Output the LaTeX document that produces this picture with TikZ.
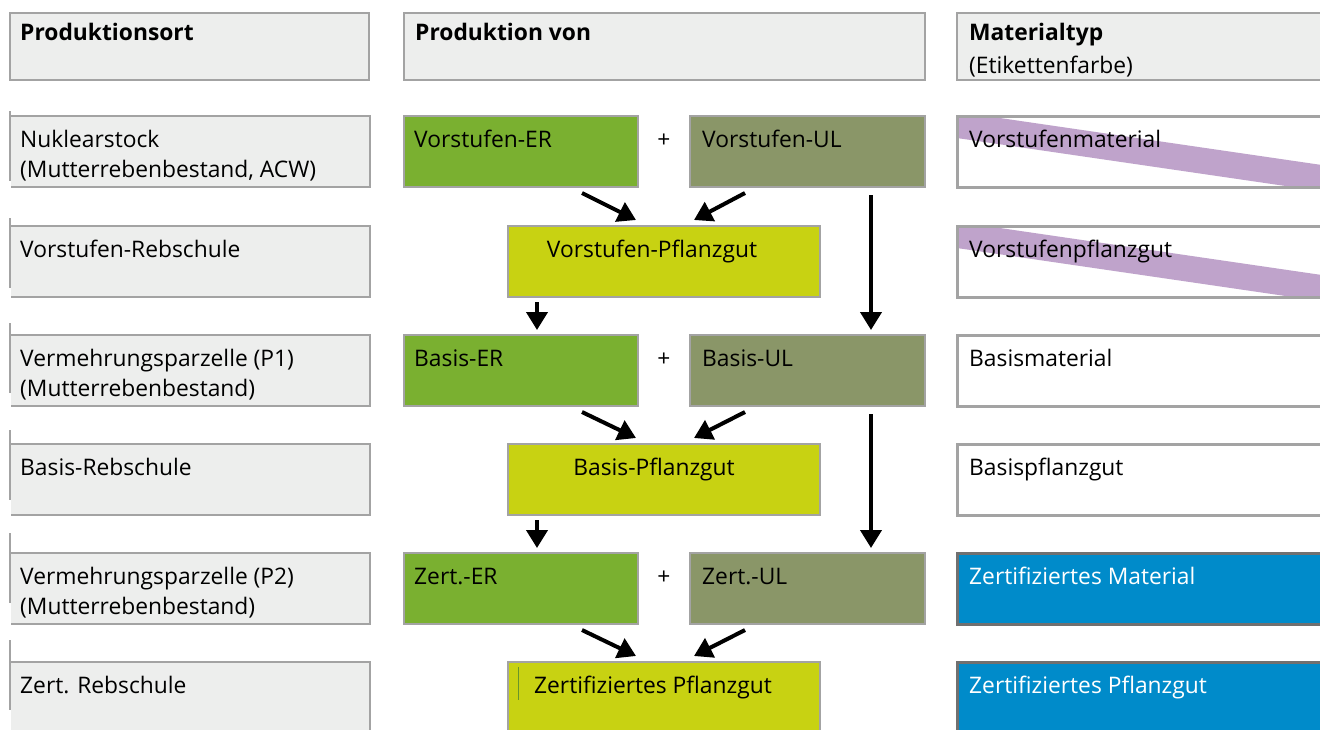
\documentclass[tikz,border=0pt]{standalone}
\usepackage{fontspec}
\setmainfont{Open Sans}
\usetikzlibrary{arrows.meta,calc}
\definecolor{boxgray}{HTML}{EDEEED}
\definecolor{edgegray}{HTML}{A3A3A3}
\definecolor{edgedark}{HTML}{707070}
\definecolor{ergreen}{HTML}{7AB030}
\definecolor{ulgreen}{HTML}{8A9668}
\definecolor{pfyellow}{HTML}{C8D212}
\definecolor{lilac}{HTML}{BFA3CB}
\definecolor{matblue}{HTML}{008BCA}
\tikzset{
  base/.style={rectangle, anchor=north west, inner sep=0pt, outer sep=0pt},
  lbox/.style={base, fill=boxgray, minimum width=359pt, minimum height=71pt},
  hbox/.style={base, fill=boxgray, draw=edgegray, line width=2pt, minimum height=67pt},
  erbox/.style={base, fill=ergreen, draw=edgegray, line width=1.5pt, minimum width=234pt, minimum height=71pt},
  ulbox/.style={base, fill=ulgreen, draw=edgegray, line width=1.5pt, minimum width=235pt, minimum height=71pt},
  pfbox/.style={base, fill=pfyellow, draw=edgegray, line width=1.5pt, minimum width=312pt, minimum height=71pt},
  mbox/.style={base, fill=white, minimum width=380pt, minimum height=71pt},
  bbox/.style={base, fill=matblue, draw=edgedark, line width=3pt, minimum width=380pt, minimum height=71pt},
  txt/.style={anchor=base west, inner sep=0pt, font=\fontsize{22.8}{30}\selectfont, align=left},
  htxt/.style={txt, font=\fontsize{22.8}{33}\selectfont\bfseries},
  ctxt/.style={anchor=base, inner sep=0pt, font=\fontsize{22.8}{30}\selectfont},
  edge/.style={draw=edgegray, line width=2pt},
  medge/.style={draw=edgegray, line width=3pt},
  tick/.style={draw=edgegray, line width=1.5pt},
  arr/.style={line width=4pt, -{Triangle[length=18pt,width=21pt]}},
}
\begin{document}
\begin{tikzpicture}[x=1pt,y=-1pt]
\useasboundingbox (0,0) rectangle (1320,729);
\clip (0,0) rectangle (1320,729);

% ---------- headers ----------
\node[hbox, minimum width=359pt] (h1) at (10,13) {};
\node[hbox, minimum width=521pt] (h2) at (404,13) {};
\node[hbox, minimum width=380pt] (h3) at (957,13) {};
\node[htxt] (th1) at ($(h1.north west)+(10,27)$) {Produktionsort};
\node[htxt] (th2) at ($(h2.north west)+(11,27)$) {Produktion von};
\node[htxt] (th3) at ($(h3.north west)+(12,60)$) {Materialtyp\\\mdseries(Etikettenfarbe)};

% ---------- left column ----------
\foreach \i/\t/\k in {1/116/111, 2/226/218, 3/335/323, 4/444/430, 5/553/533, 6/662/640}{
  \node[lbox] (l\i) at (11,\t) {};
  \draw[edge] (l\i.north west) -- (l\i.north east) -- (l\i.south east) -- (l\i.south west);
  \coordinate (k\i) at (10,\k);
  \draw[tick] (k\i) -- ++(0,70);
}
\node[txt] (tl1) at ($(l1.north west)+(9,61)$) {Nuklearstock\\(Mutterrebenbestand, ACW)};
\node[txt] (tl2) at ($(l2.north west)+(9,31)$) {Vorstufen-Rebschule};
\node[txt] (tl3) at ($(l3.north west)+(9,61)$) {Vermehrungsparzelle (P1)\\(Mutterrebenbestand)};
\node[txt] (tl4) at ($(l4.north west)+(9,31)$) {Basis-Rebschule};
\node[txt] (tl5) at ($(l5.north west)+(9,61)$) {Vermehrungsparzelle (P2)\\(Mutterrebenbestand)};
\node[txt] (tl6) at ($(l6.north west)+(9,31)$) {Zert. Rebschule};

% ---------- middle column ----------
\node[erbox] (er1) at (404,116) {};
\node[ulbox] (ul1) at (690,116) {};
\node[pfbox] (pf1) at (508,226) {};
\node[erbox] (er2) at (404,335) {};
\node[ulbox] (ul2) at (690,335) {};
\node[pfbox] (pf2) at (508,444) {};
\node[erbox] (er3) at (404,553) {};
\node[ulbox] (ul3) at (690,553) {};
\node[pfbox] (pf3) at (508,662) {};
\draw[draw=ergreen!85!black, line width=1pt] ($(pf3.north west)+(10,5)$) -- ++(0,33);

\node[txt] (ter1) at ($(er1.north west)+(10,31)$) {Vorstufen-ER};
\node[txt] (tul1) at ($(ul1.north west)+(12,31)$) {Vorstufen-UL};
\node[ctxt] (tpf1) at ($(pf1.north)+(-12,31)$) {Vorstufen-Pflanzgut};
\node[txt] (ter2) at ($(er2.north west)+(10,31)$) {Basis-ER};
\node[txt] (tul2) at ($(ul2.north west)+(12,31)$) {Basis-UL};
\node[ctxt] (tpf2) at ($(pf2.north)+(-10,31)$) {Basis-Pflanzgut};
\node[txt] (ter3) at ($(er3.north west)+(10,31)$) {Zert.-ER};
\node[txt] (tul3) at ($(ul3.north west)+(12,31)$) {Zert.-UL};
\node[ctxt] (tpf3) at ($(pf3.north)+(-11,31)$) {Zertifiziertes Pflanzgut};

\node[ctxt] (p1) at (664,147) {+};
\node[ctxt] (p2) at (664,366) {+};
\node[ctxt] (p3) at (664,584) {+};

% arrows
\foreach \a/\b/\c in {er1/ul1/pf1, er2/ul2/pf2, er3/ul3/pf3}{
  \draw[arr] ($(\a.south west)+(178,6)$) -- ($(\c.north west)+(128,-6)$);
  \draw[arr] ($(\b.south west)+(55,6)$) -- ($(\c.north west)+(186,-6)$);
}
\draw[arr] ($(pf1.south west)+(29,5)$) -- ($(er2.north west)+(133,-5)$);
\draw[arr] ($(pf2.south west)+(29,5)$) -- ($(er3.north west)+(133,-5)$);
\draw[arr] ($(ul1.south west)+(181,8)$) -- ($(ul2.north west)+(181,-5)$);
\draw[arr] ($(ul2.south west)+(181,8)$) -- ($(ul3.north west)+(181,-5)$);

% ---------- right column ----------
\foreach \i/\t in {1/116, 2/226}{
  \node[mbox] (m\i) at (957,\t) {};
  \begin{scope}
    \clip (m\i.north west) rectangle (m\i.south east);
    \fill[lilac] ($(m\i.north west)+(-7,-5.3)$) -- ($(m\i.north west)+(373,50.2)$)
                 -- ($(m\i.north west)+(373,76.5)$) -- ($(m\i.north west)+(-7,21)$) -- cycle;
  \end{scope}
  \draw[medge] (m\i.north west) rectangle (m\i.south east);
}
\foreach \i/\t in {3/335, 4/444}{
  \node[mbox] (m\i) at (957,\t) {};
  \draw[medge] (m\i.north west) rectangle (m\i.south east);
}
\node[bbox] (m5) at (957,553) {};
\node[bbox] (m6) at (957,662) {};

\node[txt] (tm1) at ($(m1.north west)+(12,31)$) {Vorstufenmaterial};
\node[txt] (tm2) at ($(m2.north west)+(12,31)$) {Vorstufenpflanzgut};
\node[txt] (tm3) at ($(m3.north west)+(12,31)$) {Basismaterial};
\node[txt] (tm4) at ($(m4.north west)+(12,31)$) {Basispflanzgut};
\node[txt, text=white] (tm5) at ($(m5.north west)+(12,31)$) {Zertifiziertes Material};
\node[txt, text=white] (tm6) at ($(m6.north west)+(12,31)$) {Zertifiziertes Pflanzgut};
\end{tikzpicture}
\end{document}
